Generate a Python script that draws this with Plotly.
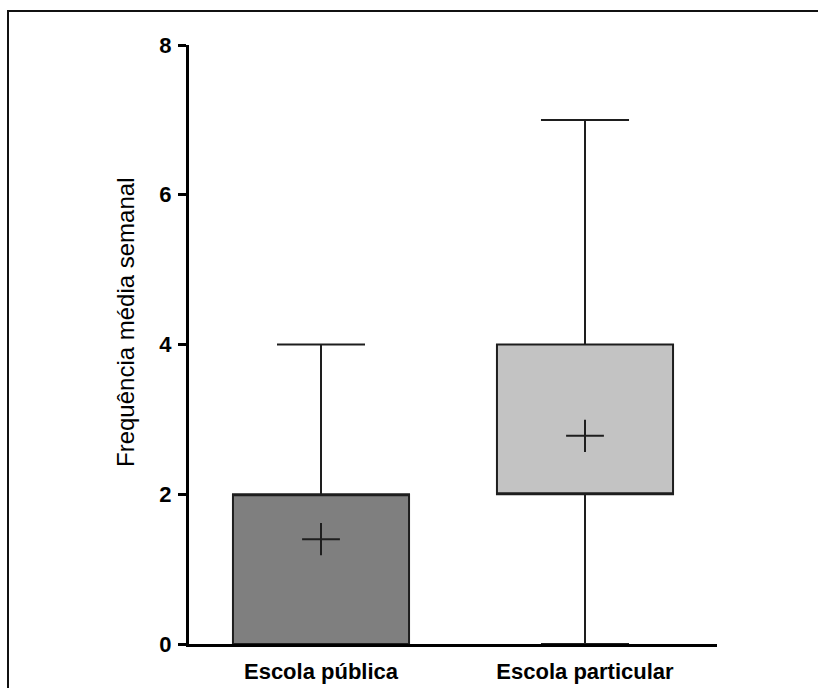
import plotly.graph_objects as go

categories = ["Escola pública", "Escola particular"]
q1 = [0, 2]
median = [2, 2]
q3 = [2, 4]
lower = [0, 0]
upper = [4, 7]
means = [1.4, 2.78]
fills = ["#7f7f7f", "#c3c3c3"]
y_ticks = [0, 2, 4, 6, 8]
y_title = "Frequência média semanal"

FONT = "Liberation Sans, Arial, sans-serif"

fig = go.Figure()
for i, cat in enumerate(categories):
    fig.add_trace(go.Box(
        x=[cat], q1=[q1[i]], median=[median[i]], q3=[q3[i]],
        lowerfence=[lower[i]], upperfence=[upper[i]],
        width=0.667, whiskerwidth=0.5,
        fillcolor=fills[i], line=dict(color="#1e1e1e", width=2),
        boxpoints=False, showlegend=False, hoverinfo="skip",
    ))

fig.add_trace(go.Scatter(
    x=categories, y=means, mode="markers",
    marker=dict(symbol="line-ew", size=27, line=dict(color="#1e1e1e", width=2)),
    showlegend=False, hoverinfo="skip",
))
fig.add_trace(go.Scatter(
    x=categories, y=means, mode="markers",
    marker=dict(symbol="line-ns", size=23, line=dict(color="#1e1e1e", width=2)),
    showlegend=False, hoverinfo="skip",
))

W, H = 818, 688
L, R, T, B = 189, 101, 45, 44
pw, ph = W - L - R, H - T - B

def px_x(p):
    return (p - L) / pw

def px_y(p):
    return (H - B - p) / ph

frame_line = dict(color="#111111", width=2)

fig.update_layout(
    width=W, height=H,
    margin=dict(l=L, r=R, t=T, b=B, autoexpand=False),
    paper_bgcolor="white", plot_bgcolor="white",
    font=dict(family=FONT, color="black"),
    xaxis=dict(
        type="category", range=[-0.5, 1.5], showline=True, linewidth=3,
        linecolor="black", ticks="", showgrid=False, zeroline=False,
        tickfont=dict(family=FONT, size=22, color="black", weight="bold"),
        ticklabelstandoff=6,
    ),
    yaxis=dict(
        range=[0, 8], tickvals=y_ticks, ticks="outside", ticklen=8, tickwidth=3,
        tickcolor="black", showline=True, linewidth=3, linecolor="black",
        showgrid=False, zeroline=False,
        tickfont=dict(family=FONT, size=22, color="black", weight="bold"),
        ticklabelstandoff=2,
    ),
    shapes=[
        dict(type="line", xref="paper", yref="paper",
             x0=px_x(8), x1=px_x(8), y0=px_y(700), y1=px_y(10), line=frame_line),
        dict(type="line", xref="paper", yref="paper",
             x0=px_x(7), x1=px_x(830), y0=px_y(11), y1=px_y(11), line=frame_line),
    ],
    annotations=[dict(
        text=y_title, xref="paper", yref="paper",
        x=px_x(125), y=px_y(322), xanchor="center", yanchor="middle",
        textangle=-90, showarrow=False,
        font=dict(family=FONT, size=24, color="black"),
    )],
)

fig.write_html(
    "out.html",
    config={"displayModeBar": False, "staticPlot": True},
    post_script="document.body.style.margin='0';document.body.style.overflow='hidden';",
)
